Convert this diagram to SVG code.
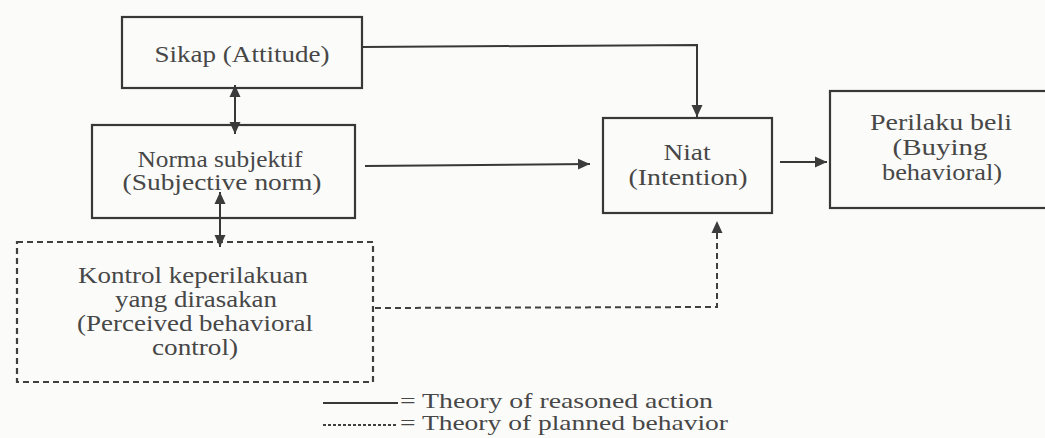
<svg xmlns="http://www.w3.org/2000/svg" width="1045" height="438" viewBox="0 0 1045 438">
<defs>
<style>
.box{fill:none;stroke:#383838;stroke-width:2.2}
.dbox{fill:none;stroke:#404040;stroke-width:2.2;stroke-dasharray:6 4}
.ln{fill:none;stroke:#383838;stroke-width:2}
.dln{fill:none;stroke:#404040;stroke-width:2;stroke-dasharray:6 4}
text{font-family:"Liberation Serif","Times New Roman",serif;font-size:23px;fill:#474747;text-anchor:middle}
.lg{font-size:21px;text-anchor:start}
</style>
<marker id="ah" viewBox="0 0 12 12" refX="12" refY="6" markerWidth="12" markerHeight="12" markerUnits="userSpaceOnUse" orient="auto-start-reverse">
<path d="M0,0.5 L12,6 L0,11.5 z" fill="#3c3c3c"/>
</marker>
</defs>
<rect width="1045" height="438" fill="#fbfbfa"/>

<g id="connectors">
<polyline class="ln" points="362,47 697,45 697,117" marker-end="url(#ah)"/>
<line class="ln" x1="235" y1="85" x2="235" y2="134" marker-start="url(#ah)" marker-end="url(#ah)"/>
<line class="ln" x1="220" y1="192" x2="220" y2="247" marker-start="url(#ah)" marker-end="url(#ah)"/>
<line class="ln" x1="365" y1="166" x2="590" y2="164" marker-end="url(#ah)"/>
<line class="ln" x1="780" y1="162" x2="827" y2="162" marker-end="url(#ah)"/>
<polyline class="dln" points="375,308 717,307 717,221" marker-end="url(#ah)"/>
</g>

<g id="sikap">
<rect class="box" x="122" y="17" width="240" height="71"/>
<text x="242" y="62" textLength="175" lengthAdjust="spacingAndGlyphs">Sikap (Attitude)</text>
</g>

<g id="norma">
<rect class="box" x="92" y="125" width="263" height="93"/>
<text x="220" y="167" textLength="165" lengthAdjust="spacingAndGlyphs">Norma subjektif</text>
<text x="222" y="190" textLength="199" lengthAdjust="spacingAndGlyphs">(Subjective norm)</text>
</g>

<g id="kontrol">
<rect class="dbox" x="17" y="242" width="356" height="140"/>
<text x="193" y="283" textLength="230" lengthAdjust="spacingAndGlyphs">Kontrol keperilakuan</text>
<text x="196" y="307" textLength="162" lengthAdjust="spacingAndGlyphs">yang dirasakan</text>
<text x="195" y="331" textLength="236" lengthAdjust="spacingAndGlyphs">(Perceived behavioral</text>
<text x="195" y="355" textLength="86" lengthAdjust="spacingAndGlyphs">control)</text>
</g>

<g id="niat">
<rect class="box" x="603" y="118" width="169" height="95"/>
<text x="687" y="160" textLength="47" lengthAdjust="spacingAndGlyphs">Niat</text>
<text x="688" y="185" textLength="119" lengthAdjust="spacingAndGlyphs">(Intention)</text>
</g>

<g id="perilaku">
<rect class="box" x="830" y="91" width="225" height="117"/>
<text x="941" y="130" textLength="142" lengthAdjust="spacingAndGlyphs">Perilaku beli</text>
<text x="940" y="155" textLength="95" lengthAdjust="spacingAndGlyphs">(Buying</text>
<text x="942" y="180" textLength="120" lengthAdjust="spacingAndGlyphs">behavioral)</text>
</g>

<g id="legend">
<line class="ln" x1="323" y1="403" x2="398" y2="403"/>
<text class="lg" x="400" y="408" textLength="313" lengthAdjust="spacingAndGlyphs">= Theory of reasoned action</text>
<line x1="323" y1="425" x2="398" y2="425" stroke="#404040" stroke-width="2" stroke-dasharray="3 2"/>
<text class="lg" x="400" y="430" textLength="328" lengthAdjust="spacingAndGlyphs">= Theory of planned behavior</text>
</g>
</svg>
